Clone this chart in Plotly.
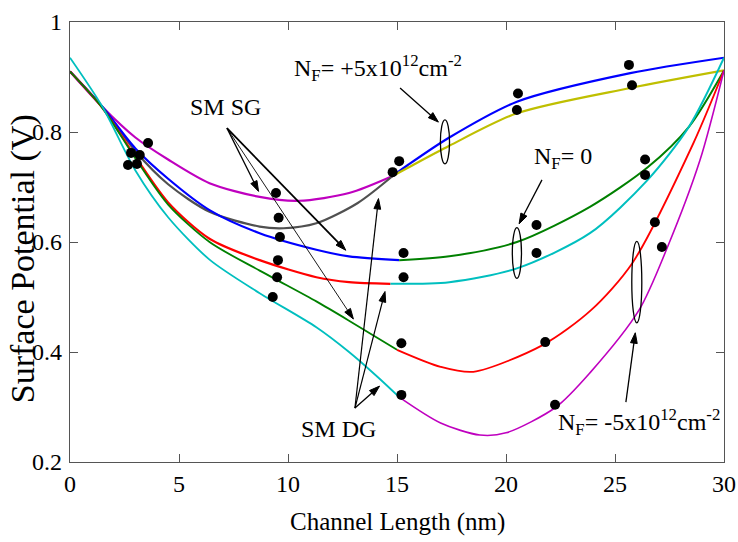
import plotly.graph_objects as go

# ---- curve segments: channel position (nm) vs surface potential (V) ----
# first gate region (0 .. ~15 nm)
mag_l_x = [0, 1.5, 3, 4.5, 6.4, 8.7, 10.5, 12.8, 14.8]
mag_l_y = [0.91, 0.845, 0.79, 0.75, 0.707, 0.682, 0.675, 0.689, 0.72]

gray_l_x = [0, 1.5, 3, 4.5, 6.4, 8.7, 9.8, 11.3, 13.2, 14.8]
gray_l_y = [0.91, 0.845, 0.765, 0.705, 0.655, 0.628, 0.625, 0.634, 0.671, 0.72]

blue_l_x = [0, 1.5, 3, 4.5, 6.4, 8.7, 11.3, 12.8, 15.1]
blue_l_y = [0.91, 0.845, 0.77, 0.715, 0.658, 0.616, 0.586, 0.574, 0.567]

red_l_x = [0, 1.5, 3, 4.5, 6.4, 8.7, 11.3, 12.8, 14.7]
red_l_y = [0.91, 0.843, 0.755, 0.672, 0.606, 0.567, 0.536, 0.527, 0.524]

green_l_x = [0, 1.5, 3, 4.5, 6.4, 8.7, 11.3, 12.8, 15]
green_l_y = [0.91, 0.843, 0.752, 0.668, 0.6, 0.548, 0.492, 0.457, 0.404]

cyan_l_x = [0, 1.5, 3, 4.5, 6.4, 8.7, 11.3, 12.8, 14.1, 15.1]
cyan_l_y = [0.935, 0.845, 0.73, 0.645, 0.568, 0.507, 0.445, 0.4, 0.355, 0.318]

# second gate region (~15 .. 30 nm)
blue_r_x = [14.8, 15.5, 17.4, 20.5, 25.7, 30]
blue_r_y = [0.72, 0.74, 0.79, 0.855, 0.907, 0.935]

yel_r_x = [14.8, 15.5, 17.4, 20.5, 25.7, 30]
yel_r_y = [0.72, 0.735, 0.775, 0.834, 0.88, 0.912]

green_r_x = [15.1, 17.4, 20.5, 23.85, 26.5, 28.4, 30]
green_r_y = [0.567, 0.574, 0.6, 0.664, 0.736, 0.81, 0.912]

cyan_r_x = [14.7, 17.4, 20.5, 23.85, 26.5, 28.4, 30]
cyan_r_y = [0.524, 0.527, 0.552, 0.616, 0.713, 0.81, 0.935]

red_r_x = [15, 17, 18.5, 21.7, 23.9, 25.8, 28.6, 30]
red_r_y = [0.404, 0.373, 0.364, 0.413, 0.476, 0.562, 0.78, 0.912]

mag_r_x = [15.1, 17, 18.8, 20, 22.3, 23.85, 26.1, 27.4, 28.9, 30]
mag_r_y = [0.318, 0.271, 0.249, 0.253, 0.3, 0.362, 0.476, 0.59, 0.749, 0.912]

# simulation points
sim_x = [2.66, 2.8, 3.07, 3.2, 3.58,
         9.45, 9.57, 9.63, 9.54, 9.5, 9.3,
         15.1, 14.8, 15.3, 15.3, 15.2, 15.2,
         20.55, 20.5, 21.4, 21.4, 21.8, 22.25,
         25.64, 25.78, 26.38, 26.38, 26.83, 27.15]
sim_y = [0.74, 0.762, 0.742, 0.758, 0.78,
         0.689, 0.644, 0.609, 0.567, 0.536, 0.5,
         0.747, 0.727, 0.58, 0.536, 0.416, 0.322,
         0.87, 0.84, 0.631, 0.58, 0.418, 0.304,
         0.922, 0.885, 0.75, 0.722, 0.636, 0.591]

# group ellipses: centre x, centre y, half-width, half-height
ell_cx = [17.2, 20.5, 26.0]
ell_cy = [0.782, 0.58, 0.527]
ell_rx = [0.21, 0.21, 0.23]
ell_ry = [0.040, 0.046, 0.074]

# text labels
lab_text = ["N<sub>F</sub>= +5x10<sup>12</sup>cm<sup>-2</sup>",
            "N<sub>F</sub>= 0",
            "N<sub>F</sub>= -5x10<sup>12</sup>cm<sup>-2</sup>",
            "SM SG", "SM DG"]
lab_x = [10.2, 21.2, 22.3, 7.11, 12.3]
lab_y = [0.917, 0.752, 0.272, 0.846, 0.26]
lab_anchor = ["left", "left", "left", "center", "center"]

# arrows: tail (x, y) -> head (x, y), line width
arr_tail_x = [15.14, 21.65, 25.5, 7.2, 7.2, 7.2, 13.07, 13.07, 13.07]
arr_tail_y = [0.88, 0.713, 0.309, 0.807, 0.807, 0.807, 0.298, 0.298, 0.298]
arr_head_x = [16.9, 20.6, 25.93, 8.65, 12.65, 13.0, 14.15, 14.45, 14.2]
arr_head_y = [0.818, 0.633, 0.435, 0.692, 0.585, 0.46, 0.679, 0.51, 0.338]
arr_w = [1.3, 1.3, 1.3, 1.3, 1.8, 0.9, 1.2, 1.2, 1.3]

MAG = "#bf00bf"
BLUE = "#0000ff"
GRAY = "#505050"
RED = "#ff0000"
GREEN = "#008000"
CYAN = "#00bfbf"
YEL = "#bfbf00"

segments = [
    (mag_l_x, mag_l_y, MAG, 2.2),
    (gray_l_x, gray_l_y, GRAY, 2.2),
    (blue_l_x, blue_l_y, BLUE, 2.2),
    (red_l_x, red_l_y, RED, 2.2),
    (green_l_x, green_l_y, GREEN, 1.8),
    (cyan_l_x, cyan_l_y, CYAN, 1.8),
    (blue_r_x, blue_r_y, BLUE, 2.2),
    (yel_r_x, yel_r_y, YEL, 2.2),
    (green_r_x, green_r_y, GREEN, 2.0),
    (cyan_r_x, cyan_r_y, CYAN, 2.0),
    (red_r_x, red_r_y, RED, 1.8),
    (mag_r_x, mag_r_y, MAG, 1.6),
]

FONT = "Liberation Serif"

fig = go.Figure()
for xs, ys, col, w in segments:
    fig.add_trace(go.Scatter(x=xs, y=ys, mode="lines",
                             line=dict(color=col, width=w, shape="spline", smoothing=0.8),
                             showlegend=False, hoverinfo="skip"))

fig.add_trace(go.Scatter(x=sim_x, y=sim_y, mode="markers",
                         marker=dict(color="black", size=10, symbol="circle"),
                         showlegend=False, hoverinfo="skip"))

# pointer arrows: a line with an arrow-head marker at its far end
for tx, ty, hx, hy, w in zip(arr_tail_x, arr_tail_y, arr_head_x, arr_head_y, arr_w):
    fig.add_trace(go.Scatter(x=[tx, hx], y=[ty, hy], mode="lines+markers",
                             line=dict(color="black", width=w),
                             marker=dict(symbol="arrow", size=[0, 11], angleref="previous",
                                         color="black", opacity=1,
                                         line=dict(color="black", width=1)),
                             showlegend=False, hoverinfo="skip"))

for cx, cy, rx, ry in zip(ell_cx, ell_cy, ell_rx, ell_ry):
    fig.add_shape(type="circle", xref="x", yref="y",
                  x0=cx - rx, x1=cx + rx, y0=cy - ry, y1=cy + ry,
                  line=dict(color="black", width=1.3))

annotations = []
for t, x, y, a in zip(lab_text, lab_x, lab_y, lab_anchor):
    annotations.append(dict(x=x, y=y, xref="x", yref="y", text=t, showarrow=False,
                            xanchor=a, yanchor="middle",
                            font=dict(family=FONT, size=24, color="black")))
# axis titles
annotations.append(dict(x=-0.072, y=0.463, xref="paper", yref="paper",
                        text="Surface Potential (V)", textangle=-90, showarrow=False,
                        xanchor="center", yanchor="middle",
                        font=dict(family=FONT, size=34, color="black")))
annotations.append(dict(x=0.5, y=-0.136, xref="paper", yref="paper",
                        text="Channel Length (nm)", showarrow=False,
                        xanchor="center", yanchor="middle",
                        font=dict(family=FONT, size=25, color="black")))

fig.update_layout(
    width=738, height=542,
    margin=dict(l=70, r=14, t=22, b=80),
    paper_bgcolor="white", plot_bgcolor="white",
    font=dict(family=FONT, size=23, color="black"),
    annotations=annotations,
)

fig.update_xaxes(
    range=[0, 30], tickvals=[0, 5, 10, 15, 20, 25, 30],
    ticks="inside", ticklen=8, tickcolor="#555", mirror="ticks",
    showline=True, linecolor="#555", linewidth=1.2,
    showgrid=False, zeroline=False, automargin=False,
    tickfont=dict(family=FONT, size=24), ticklabelstandoff=0,
)
fig.update_yaxes(
    range=[0.2, 1], tickvals=[0.2, 0.4, 0.6, 0.8, 1.0],
    ticktext=["0.2", "0.4", "0.6", "0.8", "1"],
    ticks="inside", ticklen=8, tickcolor="#555", mirror="ticks",
    showline=True, linecolor="#555", linewidth=1.2,
    showgrid=False, zeroline=False, automargin=False,
    tickfont=dict(family=FONT, size=24), ticklabelstandoff=2,
)

fig.write_html("out.html")
